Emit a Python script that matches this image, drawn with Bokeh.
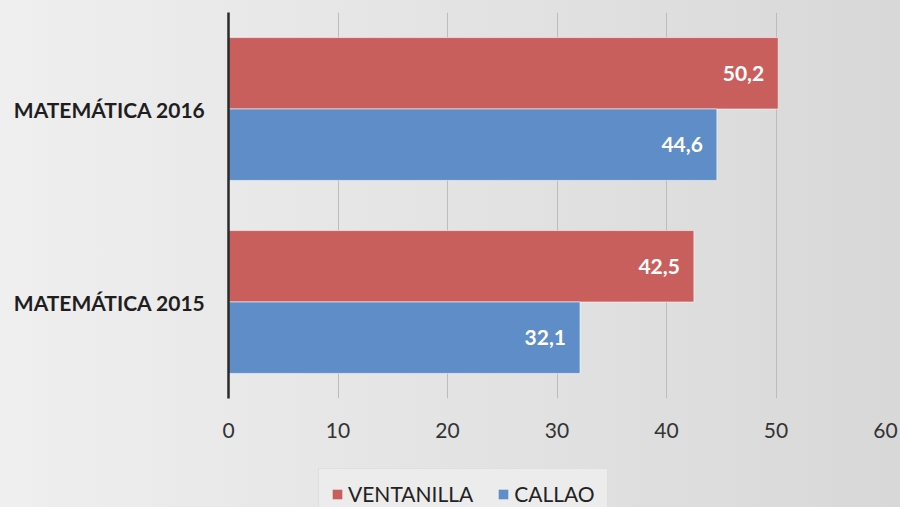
from bokeh.plotting import figure
from bokeh.layouts import column
from bokeh.models import ColumnDataSource, FactorRange, Legend, LegendItem, FixedTicker
from bokeh.transform import dodge
from bokeh.core.properties import value
from bokeh.embed import file_html
from bokeh.resources import INLINE

categories = ["MATEMÁTICA 2015", "MATEMÁTICA 2016"]
ventanilla = [42.5, 50.2]
callao = [32.1, 44.6]
x_ticks = [0, 10, 20, 30, 40, 50, 60]
series_names = ["VENTANILLA", "CALLAO"]
colors = ["#c95f5d", "#5f8dc8"]

FONT = "Lato"
BG = {"background": "linear-gradient(to right, #efefef, #d8d8d8)"}

def fmt(v):
    return f"{v:.1f}".replace(".", ",")

src_v = ColumnDataSource(dict(cat=categories, val=ventanilla, lab=[fmt(v) for v in ventanilla]))
src_c = ColumnDataSource(dict(cat=categories, val=callao, lab=[fmt(v) for v in callao]))

p = figure(width=900, height=465, output_backend="svg", toolbar_location=None,
           y_range=FactorRange(*categories), x_range=(0, 60),
           min_border_left=228, min_border_right=15, min_border_top=12, min_border_bottom=67)

p.styles = BG
p.background_fill_alpha = 0
p.border_fill_alpha = 0
p.outline_line_color = None

off = 0.185
bh = 0.37
p.hbar(y=dodge("cat", off, range=p.y_range), right="val", left=0, height=bh, source=src_v,
       fill_color=colors[0], line_color="white", line_alpha=0.55, line_width=1)
p.hbar(y=dodge("cat", -off, range=p.y_range), right="val", left=0, height=bh, source=src_c,
       fill_color=colors[1], line_color="white", line_alpha=0.55, line_width=1)

for src, o in ((src_v, off), (src_c, -off)):
    p.text(x="val", y=dodge("cat", o, range=p.y_range), text="lab", source=src,
           text_align="right", text_baseline="middle", x_offset=-14,
           text_color="white", text_font=value(FONT), text_font_style="bold",
           text_font_size="21px")

# axes
p.xaxis.ticker = FixedTicker(ticks=x_ticks)
p.xaxis.axis_line_color = None
p.xaxis.major_tick_line_color = None
p.xaxis.minor_tick_line_color = None
p.xaxis.major_label_standoff = 18
p.xaxis.major_label_text_font = FONT
p.xaxis.major_label_text_font_size = "21px"
p.xaxis.major_label_text_color = "#333333"

p.yaxis.axis_line_color = "#2a2a2a"
p.yaxis.axis_line_width = 2.5
p.yaxis.major_tick_line_color = None
p.yaxis.minor_tick_line_color = None
p.yaxis.major_label_standoff = 17
p.yaxis.major_label_text_font = FONT
p.yaxis.major_label_text_font_style = "bold"
p.yaxis.major_label_text_font_size = "21px"
p.yaxis.major_label_text_color = "#1e1e1e"

p.xgrid.ticker = FixedTicker(ticks=x_ticks)
p.xgrid.grid_line_color = "#bcbcbc"
p.xgrid.grid_line_width = 1
p.ygrid.grid_line_color = None

# legend strip (its frame is aligned with the chart's frame by the column layout)
lg = figure(width=900, height=42, output_backend="svg", toolbar_location=None,
            x_range=(0, 1), y_range=(0, 1), x_axis_location=None, y_axis_location=None,
            min_border_left=0, min_border_right=0, min_border_top=0, min_border_bottom=0)
lg.styles = BG
lg.background_fill_alpha = 0
lg.border_fill_alpha = 0
lg.outline_line_color = None
lg.grid.grid_line_color = None
# hidden key renderers: only their legend swatches are drawn
kv = lg.hbar(y="val", right="val", left=0, height=bh, source=src_v, fill_color=colors[0],
             line_color=None, visible=False)
kc = lg.hbar(y="val", right="val", left=0, height=bh, source=src_c, fill_color=colors[1],
             line_color=None, visible=False)

legend = Legend(items=[LegendItem(label=series_names[0], renderers=[kv], index=0),
                       LegendItem(label=series_names[1], renderers=[kc], index=0)],
                orientation="horizontal", location=(90, -12),
                label_text_font=FONT, label_text_font_size="21px", label_text_color="#222222",
                glyph_width=12, glyph_height=12, label_standoff=5, spacing=24,
                padding=12, margin=0, inactive_fill_alpha=0,
                background_fill_color="#ececec", background_fill_alpha=1,
                border_line_color="#d2d2d2", border_line_width=1)
lg.add_layout(legend, "center")

page = column(p, lg, spacing=0)
open("out.html", "w").write(file_html(page, INLINE))
